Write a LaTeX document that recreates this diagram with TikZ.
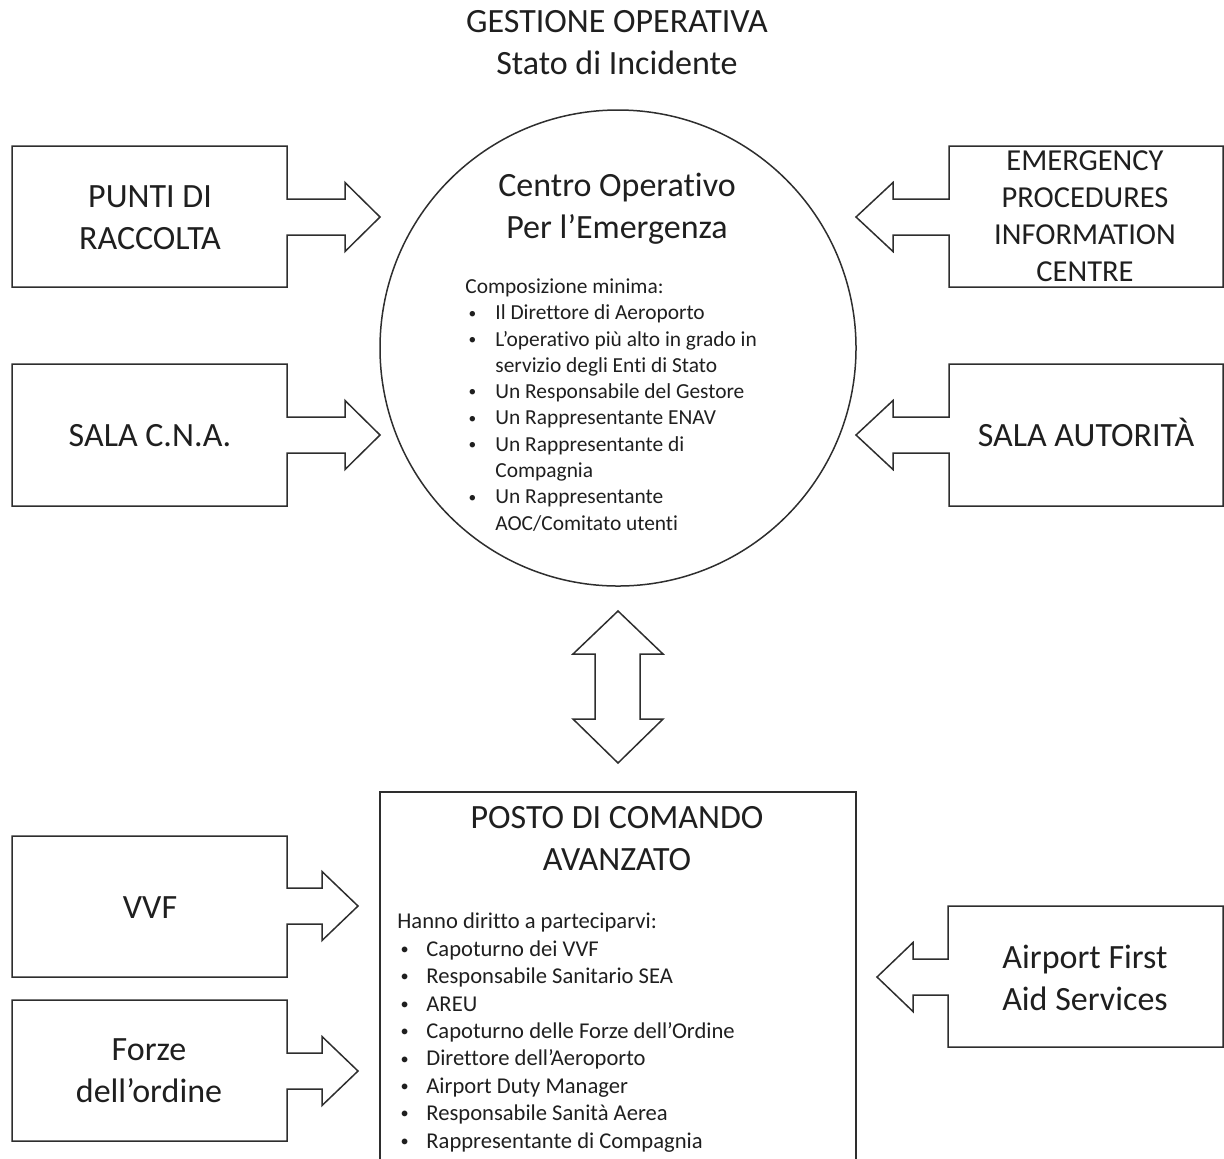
\documentclass[tikz,border=0pt]{standalone}
\usepackage{fontspec}
\setmainfont{Carlito}[Ligatures=NoCommon]

\definecolor{linegray}{gray}{0.18}
\definecolor{inkgray}{gray}{0.12}

\tikzset{
  outline/.style={draw=linegray, line width=0.75pt, line join=miter},
  bigtext/.style={text=inkgray, align=center, inner sep=0pt, font=\fontsize{17}{21}\selectfont},
  midtext/.style={bigtext, font=\fontsize{15.25}{18.5}\selectfont},
  listnode/.style={text=inkgray, inner sep=0pt, anchor=north west},
}

% Box with a block arrow leaving one side.
% #1 far x, #2 arrow-side x, #3 top y, #4 bottom y, #5 arrow axis y,
% #6 x where the stem meets the head, #7 tip x
\newcommand\blockcallout[7]{%
  \draw[outline] ({#1},{#3}) -- ({#2},{#3}) -- ({#2},{#5-18}) -- ({#6},{#5-18})
    -- ({#6},{#5-34.5}) -- ({#7},{#5}) -- ({#6},{#5+34.5}) -- ({#6},{#5+18})
    -- ({#2},{#5+18}) -- ({#2},{#4}) -- ({#1},{#4}) -- cycle;}

% small list bullet in a fixed-width slot
\newcommand\bul[1]{\makebox[#1][l]{\hspace*{1.6pt}\raisebox{0.08em}{\scalebox{0.72}{\textbullet}}}}

\begin{document}
\begin{tikzpicture}[x={(0.5pt,0)}, y={(0,-0.5pt)}]
\useasboundingbox (0,0) rectangle (1224,1158);
\clip (0,0) rectangle (1224,1158);

% title
\node[bigtext] (title) at (617,42.5) {GESTIONE OPERATIVA\\Stato di Incidente};

% central circle
\node[outline, circle, minimum size=476*0.5pt, inner sep=0pt] (coe) at (618,348) {};
\node[bigtext] (coetitle) at (617,209) {Centro Operativo\\Per l’Emergenza};
\node[listnode, font=\fontsize{10.7}{13.15}\selectfont] (coelist) at (465,274.6) {%
  \begin{tabular}{@{}l@{}l@{}}
  \multicolumn{2}{@{}l@{}}{Composizione minima:}\\
  \bul{15pt} & Il Direttore di Aeroporto\\
  \bul{15pt} & L’operativo più alto in grado in\\
             & servizio degli Enti di Stato\\
  \bul{15pt} & Un Responsabile del Gestore\\
  \bul{15pt} & Un Rappresentante ENAV\\
  \bul{15pt} & Un Rappresentante di\\
             & Compagnia\\
  \bul{15pt} & Un Rappresentante\\
             & AOC/Comitato utenti
  \end{tabular}};

% feeding boxes around the circle
\blockcallout{12}{287}{146}{287}{217}{345}{380}
\node[bigtext] (punti) at (150,218) {PUNTI DI\\RACCOLTA};
\blockcallout{12}{287}{364}{506}{435}{345}{380}
\node[bigtext, anchor=base] (cna) at (150,446) {SALA C.N.A.};
\blockcallout{1223}{949}{146}{287}{217}{893}{856}
\node[midtext] (epic) at (1085,216) {EMERGENCY\\PROCEDURES\\INFORMATION\\CENTRE};
\blockcallout{1223}{949}{364}{506}{435}{893}{856}
\node[bigtext, anchor=base] (autorita) at (1086,446) {SALA AUTORITÀ};

% two-way link between the circle and the command post
\draw[outline] (618,611) -- (663,654) -- (640,654) -- (640,719) -- (663,719)
  -- (618,763) -- (573,719) -- (595,719) -- (595,654) -- (573,654) -- cycle;

% command post
\draw[outline] (380,792) rectangle (856,1180);
\node[bigtext] (pca) at (617,839) {POSTO DI COMANDO\\AVANZATO};
\node[listnode, font=\fontsize{11.3}{13.7}\selectfont] (pcalist) at (397,909.3) {%
  \begin{tabular}{@{}l@{}l@{}}
  \multicolumn{2}{@{}l@{}}{Hanno diritto a parteciparvi:}\\
  \bul{14.5pt} & Capoturno dei VVF\\
  \bul{14.5pt} & Responsabile Sanitario SEA\\
  \bul{14.5pt} & AREU\\
  \bul{14.5pt} & Capoturno delle Forze dell’Ordine\\
  \bul{14.5pt} & Direttore dell’Aeroporto\\
  \bul{14.5pt} & Airport Duty Manager\\
  \bul{14.5pt} & Responsabile Sanità Aerea\\
  \bul{14.5pt} & Rappresentante di Compagnia
  \end{tabular}};

% boxes feeding the command post
\blockcallout{12}{287}{836}{977}{906}{322}{358}
\node[bigtext, anchor=base] (vvf) at (150,918) {VVF};
\blockcallout{12}{287}{1000}{1141}{1071}{322}{358}
\node[bigtext] (forze) at (149,1070.5) {Forze\\dell’ordine};
\blockcallout{1223}{948}{906}{1047}{977}{913}{877}
\node[bigtext] (afas) at (1085,977.5) {Airport First\\Aid Services};
\end{tikzpicture}
\end{document}
